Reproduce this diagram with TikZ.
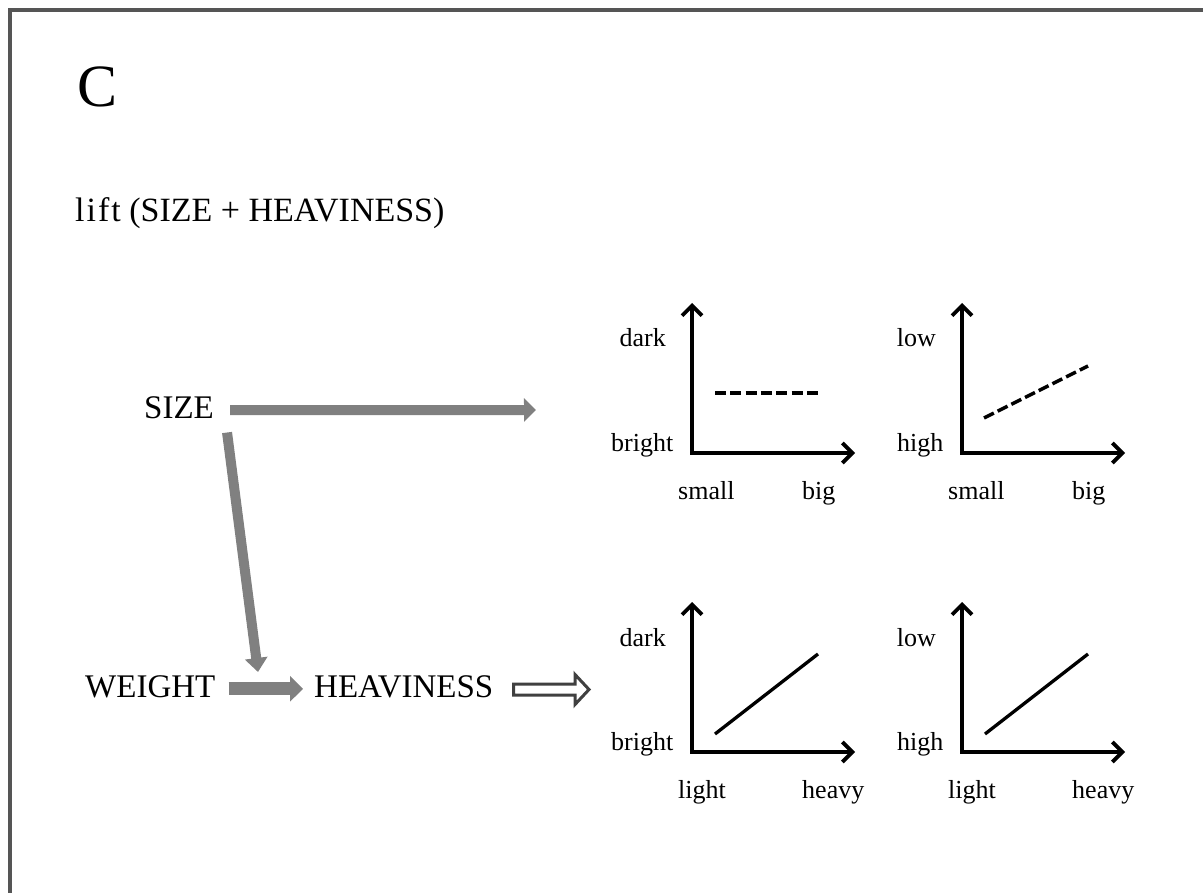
\documentclass[tikz,border=0pt]{standalone}
\usepackage{fontspec}
\setmainfont{Liberation Serif}
\usetikzlibrary{arrows.meta}
\definecolor{arrgray}{HTML}{808080}
\definecolor{framegray}{HTML}{555555}
\definecolor{hollowgray}{HTML}{404040}
\newcommand\plotpanel[9]{%
  \begin{scope}[shift={(#2,#3)}]
    \coordinate (#1o) at (0,0);
    \coordinate (#1y) at (0,-150);
    \coordinate (#1x) at (163,0);
    \draw[axis] (#1y) -- (#1o) -- (#1x);
    \node[small, anchor=base east] (#1top) at (-26,-106) {#4};
    \node[small, anchor=base east] (#1bot) at (-18.5,-2) {#5};
    \node[small, anchor=base west] (#1left) at (-14,46) {#6};
    \node[small, anchor=base west] (#1right) at (110,46) {#7};
    \draw[#8] #9;
  \end{scope}}
\begin{document}
\begin{tikzpicture}[x=1pt,y=-1pt,
  lbl/.style={inner sep=0pt, font=\fontsize{33}{40}\selectfont},
  small/.style={inner sep=0pt, font=\fontsize{26}{31}\selectfont},
  garrow/.style={draw=arrgray, line width=10pt, -{Triangle[length=12pt,width=23pt]}},
  axis/.style={line width=3.8pt, line join=miter,
     {Straight Barb[length=10pt,width=20pt]}-{Straight Barb[length=10pt,width=20pt]}},
  dashline/.style={line width=3.5pt, dash pattern=on 11pt off 4.3pt},
  solidline/.style={line width=3.3pt},
  hollow/.style={draw=hollowgray, line width=3pt, fill=white, line join=miter}
]
\useasboundingbox (0,0) rectangle (1203,893);
\fill[white] (0,0) rectangle (1203,893);
\draw[framegray, line width=3.5pt, line join=miter] (10,900) -- (10,10) -- (1210,10);

\node[anchor=base west, inner sep=0pt, font=\fontsize{60}{70}\selectfont] (panel) at (77,107) {C};
\node[anchor=base west, inner sep=0pt, font=\fontsize{34}{40}\selectfont] (title) at (75,222)
  {l\kern2pt i\kern2pt f\kern2pt t (SIZE + HEAVINESS)};

\node[lbl, anchor=base west] (size) at (144,419) {SIZE};
\node[lbl, anchor=base west] (weight) at (85,697) {WEIGHT};
\node[lbl, anchor=base west] (heav) at (314,697) {HEAVINESS};

\coordinate (sizeend) at (536,410);
\coordinate (dtip) at (258,672);
\draw[garrow] ([shift={(16pt,-2pt)}]size.east) -- (sizeend);
\draw[draw=arrgray, line width=10pt, -{Triangle[length=14pt,width=22pt]}]
  ([shift={(13pt,-13pt)}]size.south east) -- (dtip);
\draw[draw=arrgray, line width=13pt, -{Triangle[length=13pt,width=25pt]}]
  ([shift={(13pt,-2.5pt)}]weight.east) -- ([shift={(-11pt,-2.5pt)}]heav.west);

\draw[hollow] (513.5,684) -- (575,684) -- (575,674.5) -- (589,689.5) -- (575,704.5)
  -- (575,695) -- (513.5,695) -- cycle;

\plotpanel{a}{692}{453}{dark}{bright}{small}{big}{dashline}{(23,-60) -- (126,-60)}
\plotpanel{b}{962}{453}{low}{high}{small}{big}{dashline}{(22,-35) -- (126,-87)}
\plotpanel{c}{692}{752}{dark}{bright}{light}{heavy}{solidline}{(23,-18) -- (126,-98)}
\plotpanel{d}{962}{752}{low}{high}{light}{heavy}{solidline}{(23,-18) -- (126,-98)}
\end{tikzpicture}
\end{document}
